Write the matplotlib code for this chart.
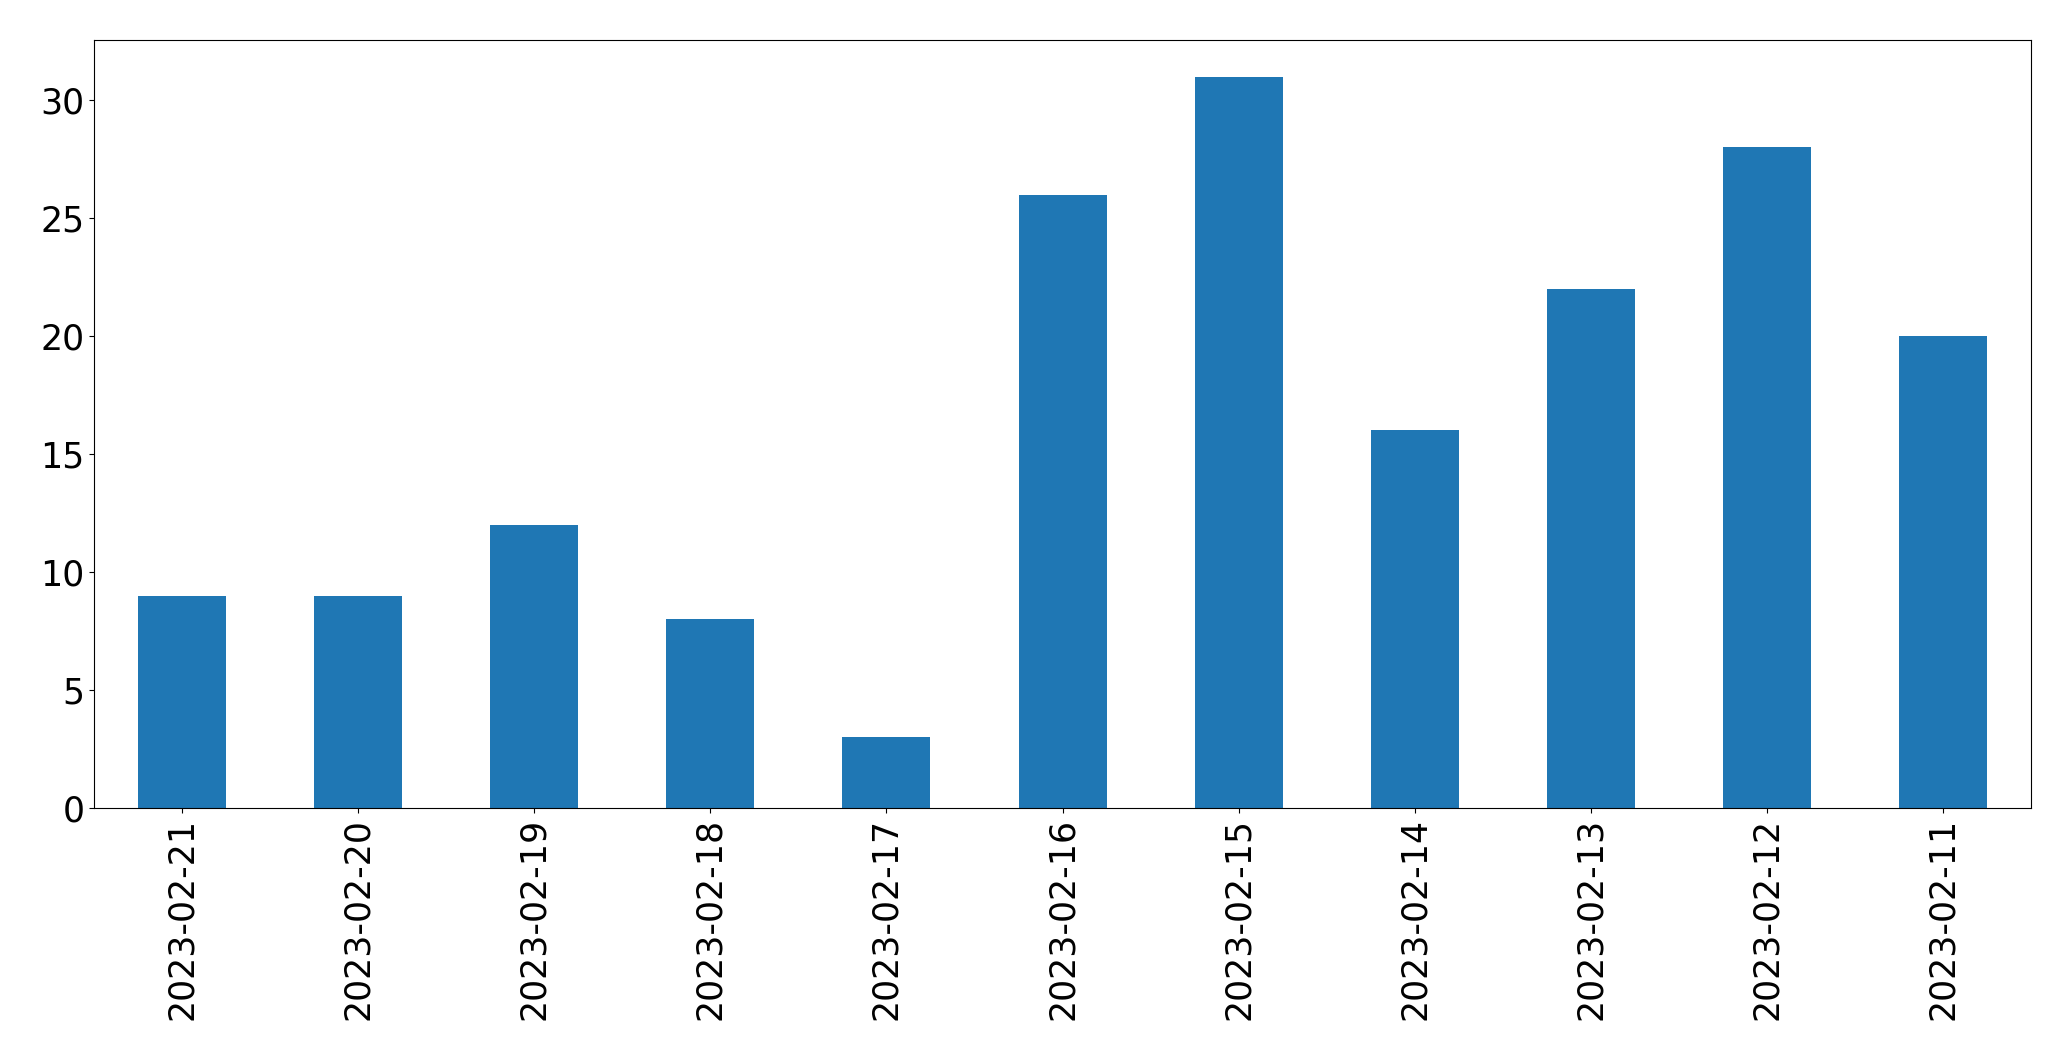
import matplotlib
matplotlib.use("Agg")
import matplotlib.pyplot as plt
import numpy as np

dates = ['2023-02-21', '2023-02-20', '2023-02-19', '2023-02-18', '2023-02-17',
         '2023-02-16', '2023-02-15', '2023-02-14', '2023-02-13', '2023-02-12',
         '2023-02-11']
counts = [9, 9, 12, 8, 3, 26, 31, 16, 22, 28, 20]

fig, ax = plt.subplots(figsize=(20.71, 10.61), dpi=100)
x = np.arange(len(dates))
ax.bar(x, counts, width=0.5, color='#1f77b4')
ax.set_xticks(x)
ax.set_xticklabels(dates, rotation=90)
ax.set_xlim(-0.5, len(dates) - 0.5)
ax.tick_params(labelsize=25)
fig.subplots_adjust(left=0.0454, right=0.9807, top=0.9623, bottom=0.2385)
fig.savefig('out.png')
